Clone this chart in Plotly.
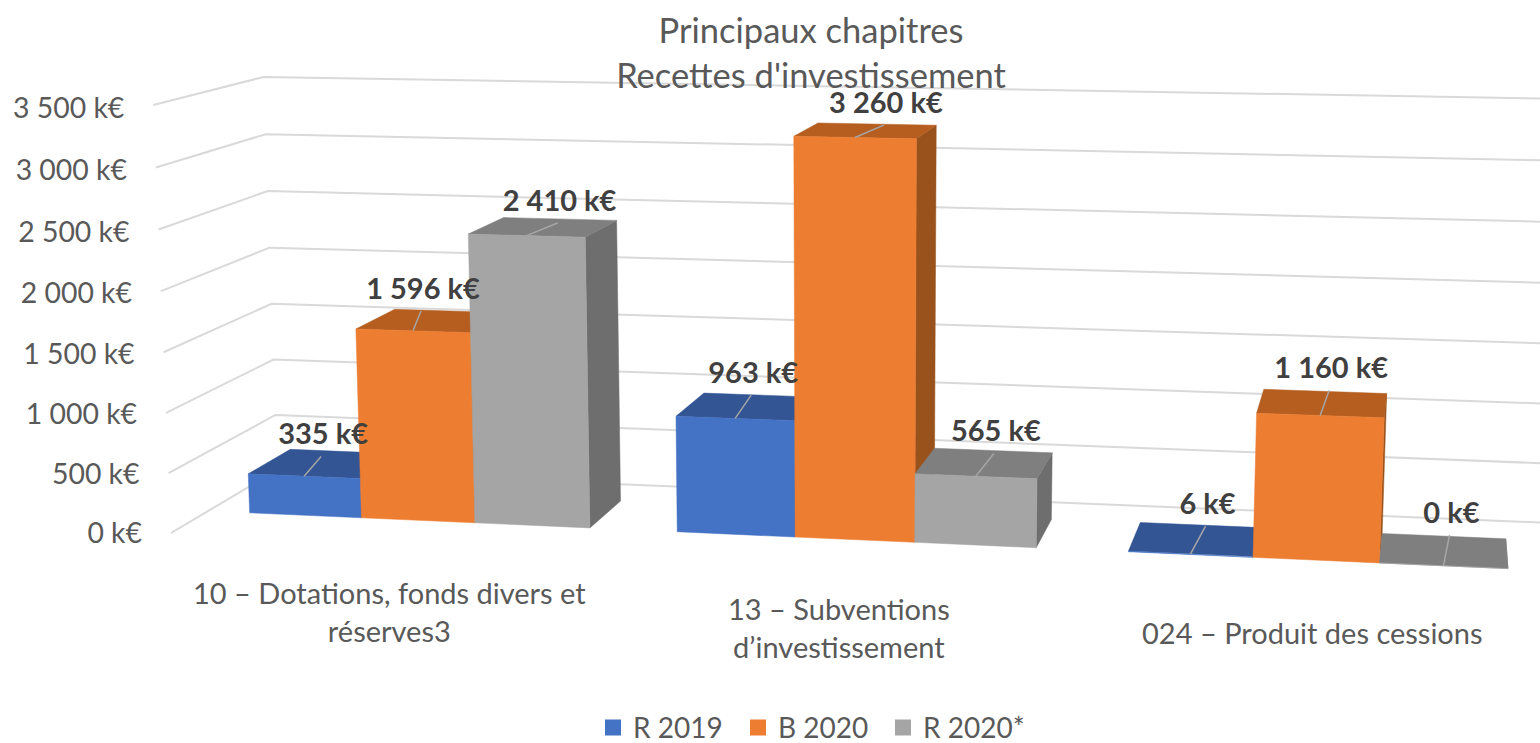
import numpy as np
import plotly.graph_objects as go

# ---- data ----
categories = ["10 – Dotations, fonds divers et<br>réserves3",
              "13 – Subventions<br>d’investissement",
              "024 – Produit des cessions"]
series_names = ["R 2019", "B 2020", "R 2020*"]
r_2019 = [335, 963, 6]
b_2020 = [1596, 3260, 1160]
r_2020 = [2410, 565, 0]
value_ticks = [0, 500, 1000, 1500, 2000, 2500, 3000, 3500]

# ---- style ----
FONT = "Lato"
TXT = "#595959"
LBL = "#404040"
GRID = "#D9D9D9"
front_cols = ["#4472C4", "#ED7D31", "#A5A5A5"]
top_cols = ["#335593", "#B55E20", "#7F7F7F"]
side_cols = ["#2F5088", "#99521C", "#6E6E6E"]
# where each data label was dragged to, in pixels from its bar's front-top midpoint / back-top
label_dx = [[19, 18, 17], [10, 31, 11], [33, 20, 8]]   # indexed [series][category]
label_dy = [[0, -5, -4], [-5, -4, -6], [-1, -2, -6]]

# ---- perspective of the chart's 3-D box (vanishing points on the page) ----
O = np.array([171.0, 533.0, 1.0])
VX = np.array([-15600.0, -190.0, 1.0])
VD = np.array([1450.0, -225.0, 1.0])
VZ = np.array([850.0, 17000.0, 1.0])
GAP = 0.75
U_MAX = 3 * (3 + GAP)
V0, V1 = 0.33, 0.74
AX = ((O[0] - 1560) / (1560 - VX[0])) / U_MAX
AD = (O[1] - 470) / (470 - VD[1])
AZ = ((O[1] - 105) / (105 - VZ[1])) / 3500


def proj(u, v, w):
    h = O + u * AX * VX + v * AD * VD + w * AZ * VZ
    return h[0] / h[2], h[1] / h[2]


def poly(points, color):
    pts = [proj(*p) for p in points] + [proj(*points[0])]
    return go.Scatter(x=[p[0] for p in pts], y=[p[1] for p in pts], mode="lines",
                      fill="toself", fillcolor=color, line=dict(color=color, width=0.5),
                      hoverinfo="skip", showlegend=False)


fig = go.Figure()

# gridlines on the two walls
for t in value_ticks:
    pts = [proj(0, 0, t), proj(0, 1, t), proj(U_MAX * 1.2, 1, t)]
    fig.add_trace(go.Scatter(x=[p[0] for p in pts], y=[p[1] for p in pts], mode="lines",
                             line=dict(color=GRID, width=2), hoverinfo="skip", showlegend=False))

# bars
all_series = [r_2019, b_2020, r_2020]
label_x, label_y, label_t = [], [], []
for c in range(len(categories)):
    base = GAP / 2 + c * (3 + GAP)
    for s, vals in enumerate(all_series):
        val = vals[c]
        a, b = base + s, base + s + 1
        fig.add_trace(poly([(b, V0, 0), (b, V1, 0), (b, V1, val), (b, V0, val)], side_cols[s]))
        fig.add_trace(poly([(a, V0, val), (b, V0, val), (b, V1, val), (a, V1, val)], top_cols[s]))
        fig.add_trace(poly([(a, V0, 0), (b, V0, 0), (b, V0, val), (a, V0, val)], front_cols[s]))
        mid = (a + b) / 2
        p0, p1 = proj(mid, V0, val), proj(mid, V1, val)
        lx = p0[0] + label_dx[s][c]
        ly = p1[1] + label_dy[s][c]
        fig.add_trace(go.Scatter(x=[p0[0], lx - 2], y=[p0[1], ly + 5], mode="lines",
                                 line=dict(color="#A6A6A6", width=1.5), hoverinfo="skip", showlegend=False))
        label_x.append(lx)
        label_y.append(ly)
        label_t.append(f"{val:,}".replace(",", " ") + " k€")

fig.add_trace(go.Scatter(x=label_x, y=label_y, text=label_t, mode="text", textposition="top center",
                         textfont=dict(family=FONT, size=29, color=LBL, weight="bold"),
                         hoverinfo="skip", showlegend=False, cliponaxis=False))

# value labels along the front-left edge
tp = [proj(0, 0, t) for t in value_ticks]
fig.add_trace(go.Scatter(x=[p[0] - 29 for p in tp],
                         y=[p[1] + 3 + 3 * t / value_ticks[-1] for p, t in zip(tp, value_ticks)],
                         text=[f"{t:,}".replace(",", " ") + " k€" for t in value_ticks],
                         mode="text", textposition="middle left",
                         textfont=dict(family=FONT, size=28.4, color=TXT),
                         hoverinfo="skip", showlegend=False, cliponaxis=False))

# category labels
cat_x = [389, 839, 1312]
cat_y = [611.5, 627, 632]
for t, x, y in zip(categories, cat_x, cat_y):
    fig.add_annotation(x=x, y=y, xref="x", yref="y", text=t, showarrow=False,
                       font=dict(family=FONT, size=29, color=TXT), align="center", xanchor="center", yanchor="middle")

# legend
for name, col in zip(series_names, front_cols):
    fig.add_trace(go.Scatter(x=[None], y=[None], mode="markers", name=name,
                             marker=dict(symbol="square", size=18, color=col)))

fig.update_layout(
    width=1540, height=743, margin=dict(l=0, r=0, t=0, b=0, autoexpand=False),
    paper_bgcolor="white", plot_bgcolor="white",
    title=dict(text="Principaux chapitres<br>Recettes d'investissement", x=811 / 1540, xanchor="center",
               y=0.942, yanchor="top", font=dict(family=FONT, size=34.5, color=TXT)),
    xaxis=dict(range=[0, 1540], visible=False, fixedrange=True),
    yaxis=dict(range=[743, 0], visible=False, fixedrange=True),
    legend=dict(orientation="h", x=593 / 1540, xanchor="left", y=0.0205, yanchor="middle",
                font=dict(family=FONT, size=28, color=TXT), itemsizing="trace", bgcolor="rgba(0,0,0,0)",
                entrywidth=100, entrywidthmode="pixels"),
)
fig.write_html("out.html", config={"displayModeBar": False},
               post_script="document.body.style.margin='0';document.documentElement.style.overflow='hidden';")
